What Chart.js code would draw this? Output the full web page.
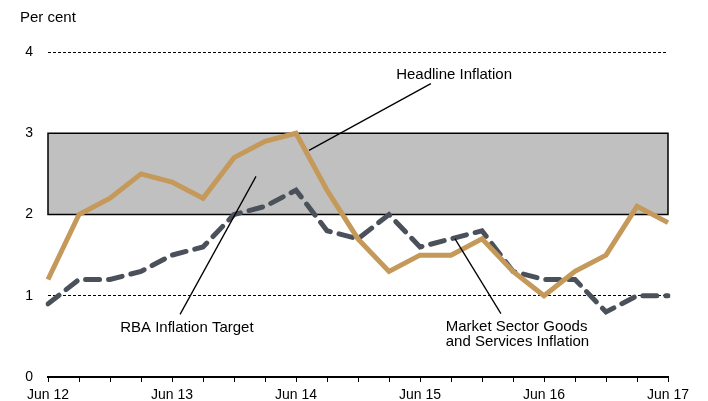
<!DOCTYPE html>
<html>
<head>
<meta charset="utf-8">
<script src="https://cdn.jsdelivr.net/npm/chart.js@4.4.1/dist/chart.umd.min.js"></script>
<style>
  html, body { margin: 0; padding: 0; background: #ffffff; }
  #wrap { width: 708px; height: 401px; }
</style>
</head>
<body>
<div id="wrap"><canvas id="grafico" width="708" height="401"></canvas></div>
<script>
/* datos */
var quarters = ["Jun 12", "Sep 12", "Dec 12", "Mar 13", "Jun 13", "Sep 13", "Dec 13", "Mar 14",
                "Jun 14", "Sep 14", "Dec 14", "Mar 15", "Jun 15", "Sep 15", "Dec 15", "Mar 16",
                "Jun 16", "Sep 16", "Dec 16", "Mar 17", "Jun 17"];
var headline = [1.2, 2.0, 2.2, 2.5, 2.4, 2.2, 2.7, 2.9, 3.0, 2.3, 1.7, 1.3, 1.5, 1.5, 1.7, 1.3, 1.0, 1.3, 1.5, 2.1, 1.9];
var marketSector = [0.9, 1.2, 1.2, 1.3, 1.5, 1.6, 2.0, 2.1, 2.3, 1.8, 1.7, 2.0, 1.6, 1.7, 1.8, 1.3, 1.2, 1.2, 0.8, 1.0, 1.0];
var yTicks = [0, 1, 2, 3, 4];
var targetBand = [2, 3];

var fuente = "'Liberation Sans', Arial, sans-serif";

/* banda objetivo del RBA */
var bandaPlugin = {
    id: "banda",
    beforeDatasetsDraw: function (chart) {
        var ctx = chart.ctx;
        var area = chart.chartArea;
        var y = chart.scales.y;
        var top = y.getPixelForValue(targetBand[1]);
        var bottom = y.getPixelForValue(targetBand[0]);
        ctx.save();
        ctx.fillStyle = "#c0c0c0";
        ctx.fillRect(area.left, top, area.right - area.left, bottom - top);
        ctx.strokeStyle = "#000000";
        ctx.lineWidth = 1.5;
        ctx.strokeRect(area.left, top, area.right - area.left, bottom - top);
        ctx.restore();
    }
};

/* etiquetas y líneas guía */
var notas = [
    { text: ["Headline Inflation"], at: [13.1, 3.72], align: "center", from: [12.35, 3.61], to: [8.42, 2.79] },
    { text: ["RBA Inflation Target"], at: [4.48, 0.6], align: "center", from: [4.26, 0.77], to: [6.71, 2.47] },
    { text: ["Market Sector Goods", "and Services Inflation"], at: [12.83, 0.62], align: "left", from: [14.61, 0.78], to: [13.13, 1.70] }
];

var notasPlugin = {
    id: "notas",
    afterDatasetsDraw: function (chart) {
        var ctx = chart.ctx;
        var x = chart.scales.x;
        var y = chart.scales.y;
        ctx.save();
        ctx.fillStyle = "#000000";
        ctx.strokeStyle = "#000000";
        ctx.lineWidth = 1.3;
        ctx.font = "15px " + fuente;
        ctx.textBaseline = "middle";
        notas.forEach(function (n) {
            ctx.beginPath();
            ctx.moveTo(x.getPixelForValue(n.from[0]), y.getPixelForValue(n.from[1]));
            ctx.lineTo(x.getPixelForValue(n.to[0]), y.getPixelForValue(n.to[1]));
            ctx.stroke();
            ctx.textAlign = n.align;
            n.text.forEach(function (t, i) {
                ctx.fillText(t, x.getPixelForValue(n.at[0]), y.getPixelForValue(n.at[1]) + i * 15);
            });
        });
        ctx.textAlign = "left";
        ctx.fillText("Per cent", 20, 18);
        ctx.restore();
    }
};

function cargaGrafico() {
    var datos = {
        labels: quarters,
        datasets: [{
            label: "Headline Inflation",
            data: headline,
            borderColor: "#c4995a",
            borderWidth: 5,
            pointRadius: 0,
            tension: 0,
            order: 1
        }, {
            label: "Market Sector Goods and Services Inflation",
            data: marketSector,
            borderColor: "#4b515a",
            borderWidth: 5,
            borderDash: [14, 9],
            borderCapStyle: "round",
            pointRadius: 0,
            tension: 0,
            order: 2
        }]
    };

    var config = {
        type: "line",
        data: datos,
        options: {
            responsive: false,
            animation: false,
            layout: { padding: { top: 52, right: 40, left: 0, bottom: 0 } },
            plugins: {
                legend: { display: false },
                tooltip: { enabled: false }
            },
            scales: {
                x: {
                    offset: false,
                    border: { color: "#000000", width: 2 },
                    grid: {
                        drawOnChartArea: false,
                        drawTicks: true,
                        tickLength: 5,
                        color: "#000000"
                    },
                    ticks: {
                        autoSkip: false,
                        maxRotation: 0,
                        padding: 5,
                        color: "#000000",
                        font: { family: fuente, size: 14 },
                        callback: function (v, i) {
                            var l = quarters[i];
                            return l.indexOf("Jun") === 0 ? l : "";
                        }
                    },
                    afterFit: function (scale) { scale.height = 24; }
                },
                y: {
                    min: yTicks[0],
                    max: yTicks[yTicks.length - 1],
                    afterBuildTicks: function (scale) {
                        scale.ticks = yTicks.map(function (v) { return { value: v }; });
                    },
                    border: { display: false, dash: [3, 2] },
                    grid: {
                        drawTicks: false,
                        color: function (c) { return c.tick && c.tick.value === 0 ? "rgba(0,0,0,0)" : "#000000"; },
                        lineWidth: 1
                    },
                    ticks: {
                        padding: 15,
                        color: "#000000",
                        font: { family: fuente, size: 14 }
                    },
                    afterFit: function (scale) { scale.width = 48; }
                }
            }
        },
        plugins: [bandaPlugin, notasPlugin]
    };
    var grafico = document.getElementById("grafico").getContext("2d");
    new Chart(grafico, config);
}

cargaGrafico();
</script>
</body>
</html>
